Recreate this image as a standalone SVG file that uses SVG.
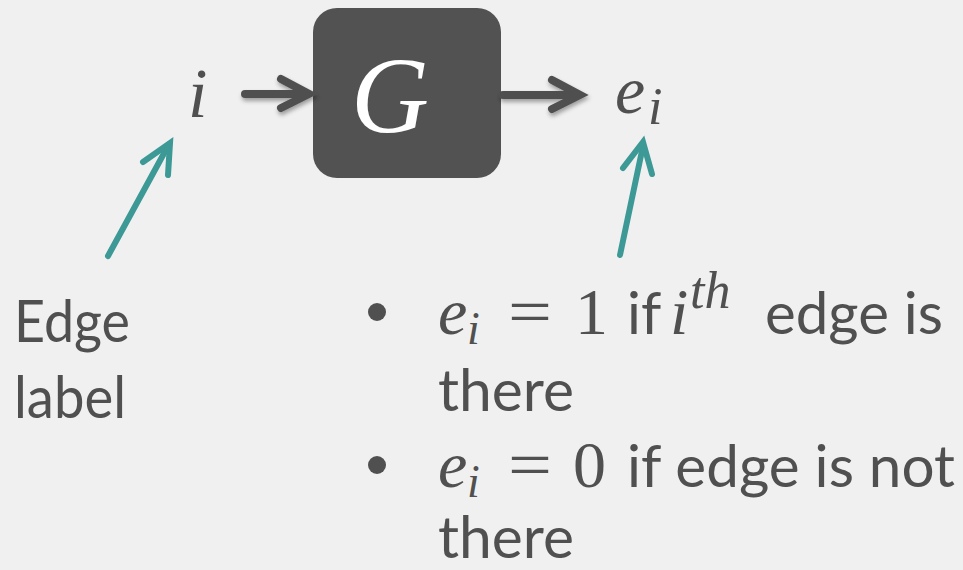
<svg xmlns="http://www.w3.org/2000/svg" width="963" height="570" viewBox="0 0 963 570">
<defs>
<filter id="sh" x="-20%" y="-50%" width="140%" height="200%">
<feDropShadow dx="1" dy="3" stdDeviation="2" flood-color="#000" flood-opacity="0.35"/>
</filter>
<style>
.math{font-family:"Liberation Serif","DejaVu Serif",serif;font-style:italic;fill:#505050}
.num{font-family:"Liberation Serif","DejaVu Serif",serif;fill:#505050}
.txt{font-family:Lato,"Open Sans",sans-serif;fill:#505050}
.dark{fill:none;stroke:#505050;stroke-width:8;stroke-linecap:round;stroke-linejoin:miter}
.teal{fill:none;stroke:#3d9996;stroke-width:6;stroke-linecap:round}
</style>
</defs>
<rect width="963" height="570" fill="#f0f0f0"/>
<g id="node-G">
<rect x="313" y="8" width="188" height="170" rx="24" ry="24" fill="#525252"/>
<text x="390" y="132" text-anchor="middle" font-size="108" font-family="Liberation Serif, DejaVu Serif, serif" font-style="italic" fill="#ffffff">G</text>
</g>
<g id="node-i">
<text class="math" x="188" y="117" font-size="70">i</text>
</g>
<g id="node-ei">
<text class="math" x="615" y="113" font-size="68">e</text>
<text class="math" x="648" y="124" font-size="52">i</text>
</g>
<g id="connectors">
<g filter="url(#sh)">
<path class="dark" d="M245 94 H306"/>
<path class="dark" d="M281 79 L309 94 L281 108"/>
<path class="dark" d="M503 95 H577"/>
<path class="dark" d="M552 80 L580 95 L552 109"/>
</g>
<path class="teal" d="M108 256 L168 146"/>
<path class="teal" d="M143 162 L170 143 L168 175"/>
<path class="teal" d="M620 255 L643 146"/>
<path class="teal" d="M623 168 L643 142 L652 174"/>
</g>
<g id="label-edge">
<text class="txt" x="14" y="342" font-size="58" textLength="116" lengthAdjust="spacingAndGlyphs">Edge</text>
<text class="txt" x="14" y="418" font-size="58" textLength="112" lengthAdjust="spacingAndGlyphs">label</text>
</g>
<g id="bullets">
<circle cx="377" cy="312" r="9" fill="#505050"/>
<text class="math" x="438" y="334" font-size="66">e</text>
<text class="math" x="467" y="344" font-size="46">i</text>
<text class="num" x="508" y="334" font-size="66" textLength="44" lengthAdjust="spacingAndGlyphs">=</text>
<text class="num" x="575" y="334" font-size="66">1</text>
<text class="txt" x="627" y="334" font-size="58">if</text>
<text class="math" x="670" y="334" font-size="66">i</text>
<text class="math" x="690" y="308" font-size="52">th</text>
<text class="txt" x="765" y="334" font-size="58" textLength="178" lengthAdjust="spacingAndGlyphs">edge is</text>
<text class="txt" x="438" y="411" font-size="58" textLength="136" lengthAdjust="spacingAndGlyphs">there</text>
<circle cx="377" cy="465" r="9" fill="#505050"/>
<text class="math" x="438" y="487" font-size="66">e</text>
<text class="math" x="467" y="497" font-size="46">i</text>
<text class="num" x="508" y="487" font-size="66" textLength="44" lengthAdjust="spacingAndGlyphs">=</text>
<text class="num" x="573" y="487" font-size="66">0</text>
<text class="txt" x="627" y="487" font-size="58" textLength="328" lengthAdjust="spacingAndGlyphs">if edge is not</text>
<text class="txt" x="438" y="558" font-size="58" textLength="136" lengthAdjust="spacingAndGlyphs">there</text>
</g>
</svg>
